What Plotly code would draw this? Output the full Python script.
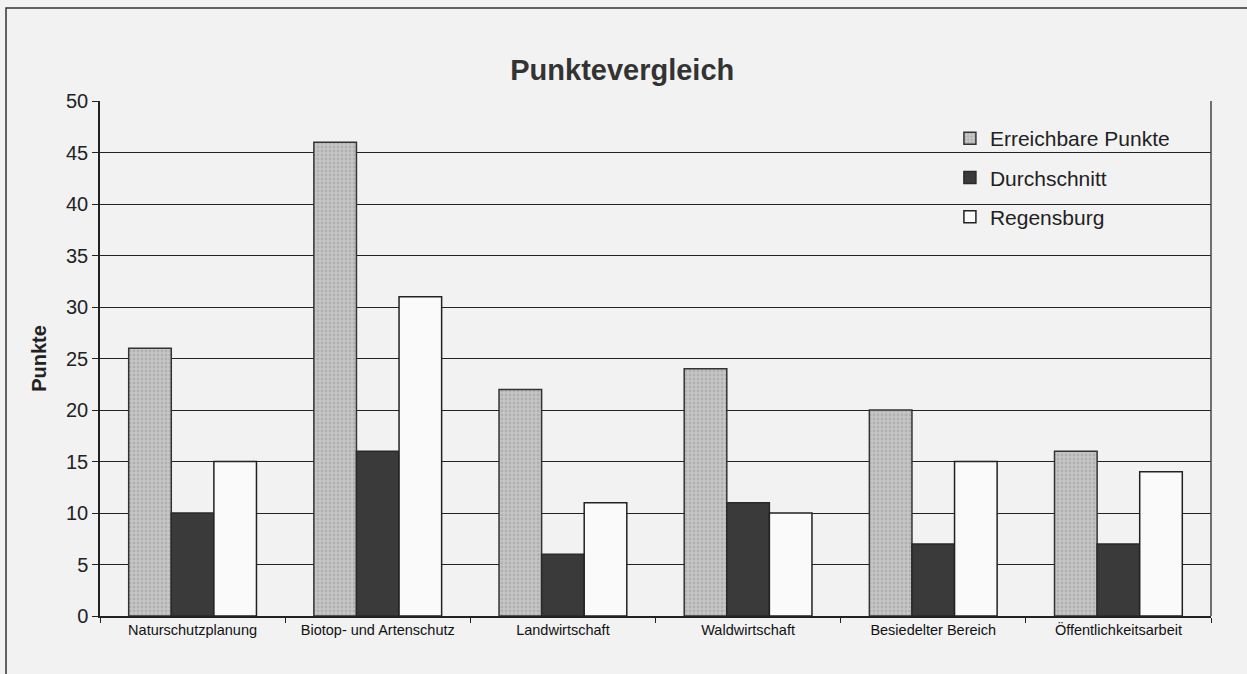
import plotly.graph_objects as go

categories = ["Naturschutzplanung", "Biotop- und Artenschutz", "Landwirtschaft",
              "Waldwirtschaft", "Besiedelter Bereich", "Öffentlichkeitsarbeit"]
erreichbar = [26, 46, 22, 24, 20, 16]
durchschnitt = [10, 16, 6, 11, 7, 7]
regensburg = [15, 31, 11, 10, 15, 14]
y_ticks = [0, 5, 10, 15, 20, 25, 30, 35, 40, 45, 50]

FONT = "Liberation Sans, Arial, sans-serif"
BG = "#f2f2f2"

fig = go.Figure()
fig.add_trace(go.Bar(
    name="Erreichbare Punkte", x=categories, y=erreichbar, legendgroup="a",
    marker=dict(color="#c4c4c4", line=dict(color="#333333", width=1.5),
                pattern=dict(shape=".", fgcolor="#9a9a9a", bgcolor="#c6c6c6", size=4, solidity=0.4)),
))
fig.add_trace(go.Bar(
    name="Durchschnitt", x=categories, y=durchschnitt, legendgroup="b",
    marker=dict(color="#3a3a3a", line=dict(color="#2a2a2a", width=1.5)),
))
fig.add_trace(go.Bar(
    name="Regensburg", x=categories, y=regensburg, legendgroup="c",
    marker=dict(color="#fafafa", line=dict(color="#222222", width=1.5)),
))

fig.update_layout(
    width=1247, height=674,
    paper_bgcolor=BG, plot_bgcolor=BG,
    margin=dict(l=100, r=36, t=101, b=58),
    barmode="group", bargap=0.31, bargroupgap=0,
    font=dict(family=FONT, color="#111111"),
    title=dict(text="<b>Punktevergleich</b>", x=0.499, xanchor="center", xref="container",
               y=0.896, yanchor="middle",
               font=dict(size=29, family=FONT, color="#333333")),
    legend=dict(x=0.765, y=0.967, xanchor="left", yanchor="top",
                bgcolor="rgba(0,0,0,0)", font=dict(size=21, family=FONT, color="#222222"),
                itemwidth=30, tracegroupgap=9),
    showlegend=True,
)
fig.update_xaxes(
    showline=True, linecolor="#222222", linewidth=1.5, mirror=False,
    ticks="outside", ticklen=5, tickcolor="#222222", tickson="boundaries",
    tickfont=dict(size=14.5, family=FONT, color="#111111"), showgrid=False,
)
fig.update_yaxes(
    range=[0, 50], tickvals=y_ticks, showline=True, linecolor="#222222", linewidth=1.5,
    ticks="outside", ticklen=6, tickcolor="#222222",
    showgrid=True, gridcolor="#222222", gridwidth=1,
    tickfont=dict(size=20, family=FONT, color="#222222"),
    title=dict(text="<b>Punkte</b>", font=dict(size=20, family=FONT, color="#222222"), standoff=14),
    zeroline=False,
)
# right border of plot area
fig.add_shape(type="line", xref="paper", yref="paper", x0=1, x1=1, y0=0, y1=1,
              line=dict(color="#444444", width=1.5))
# outer chart frame (left and top edges visible)
fig.add_shape(type="rect", xref="paper", yref="paper",
              x0=-0.0846, x1=1.05, y0=-0.16, y1=1.1806,
              line=dict(color="#333333", width=1.5))

fig.write_html("out.html", config={"displayModeBar": False})

with open("out.html", "r", encoding="utf-8") as f:
    html = f.read()
html = html.replace("<head>", "<head><style>html,body{margin:0;padding:0;overflow:hidden;}</style>", 1)
with open("out.html", "w", encoding="utf-8") as f:
    f.write(html)
